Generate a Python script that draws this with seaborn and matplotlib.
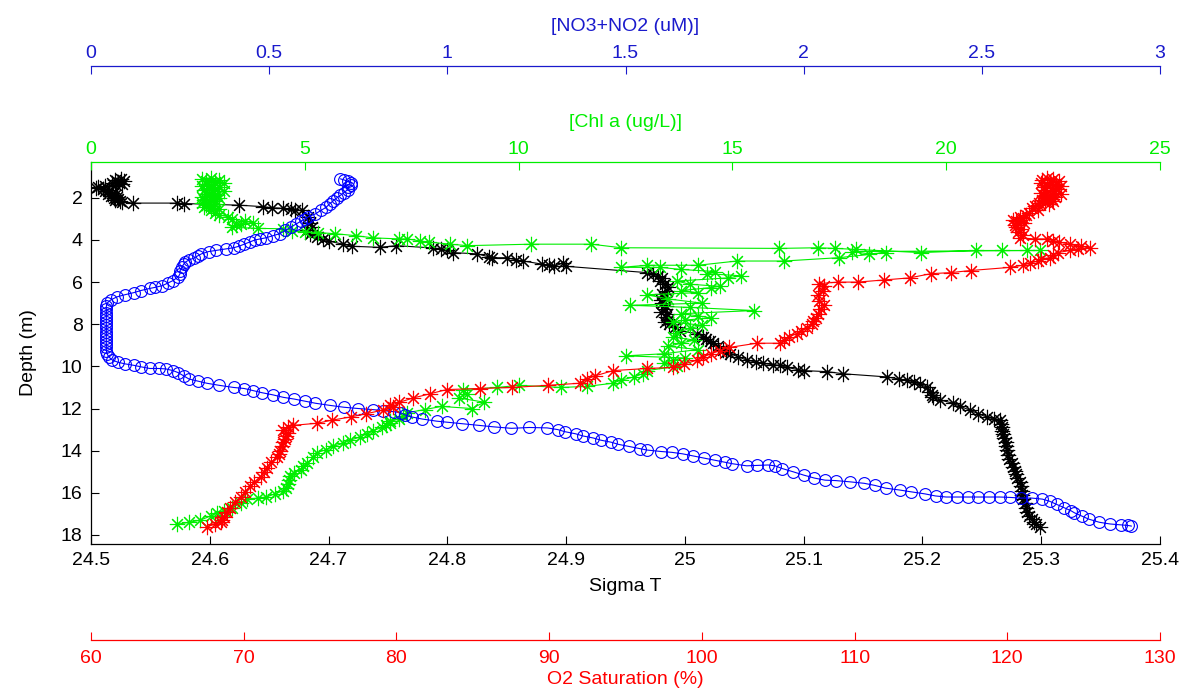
import matplotlib
matplotlib.use("Agg")
import matplotlib.pyplot as plt
import seaborn as sns
import pandas as pd

# ---------------- data ----------------
# Sigma T profile: (depth m, sigma T)
sigma_profile = [
    (1.10, 24.525), (1.15, 24.520), (1.20, 24.528), (1.25, 24.523), (1.30, 24.518), (1.35, 24.526),
    (1.40, 24.521), (1.45, 24.512), (1.50, 24.506), (1.55, 24.504), (1.60, 24.510), (1.65, 24.515),
    (1.70, 24.512), (1.75, 24.518), (1.80, 24.514), (1.85, 24.520), (1.90, 24.517), (1.95, 24.522),
    (2.00, 24.519), (2.05, 24.523), (2.10, 24.520), (2.15, 24.524), (2.20, 24.526), (2.25, 24.535),
    (2.25, 24.572), (2.27, 24.578), (2.35, 24.625), (2.42, 24.645), (2.47, 24.652), (2.50, 24.662),
    (2.55, 24.668), (2.58, 24.672), (2.60, 24.678), (2.90, 24.683), (3.20, 24.684), (3.40, 24.686),
    (3.55, 24.682), (3.70, 24.684), (3.85, 24.690), (3.95, 24.695), (4.05, 24.700), (4.20, 24.712),
    (4.30, 24.720), (4.35, 24.743), (4.27, 24.757), (4.38, 24.788), (4.42, 24.795), (4.50, 24.800),
    (4.60, 24.805), (4.66, 24.825), (4.80, 24.835), (4.85, 24.838), (4.84, 24.850), (4.95, 24.858),
    (5.00, 24.864), (5.15, 24.880), (5.20, 24.886), (5.25, 24.890), (5.10, 24.897), (5.25, 24.900),
    (5.55, 24.968), (5.60, 24.973), (5.70, 24.977), (5.80, 24.981), (5.95, 24.979), (6.10, 24.983),
    (6.25, 24.986), (6.40, 24.985), (6.55, 24.981), (6.70, 24.982), (6.85, 24.980), (7.00, 24.981),
    (7.15, 24.984), (7.30, 24.983), (7.40, 24.980), (7.50, 24.985), (7.65, 24.984), (7.80, 24.986),
    (7.90, 24.983), (8.00, 24.987), (8.15, 24.992), (8.30, 24.996), (8.45, 25.010), (8.60, 25.015),
    (8.70, 25.018), (8.80, 25.021), (8.90, 25.024), (9.05, 25.028), (9.20, 25.032), (9.30, 25.035),
    (9.40, 25.038), (9.55, 25.045), (9.70, 25.052), (9.80, 25.060), (9.86, 25.066), (9.92, 25.074),
    (9.95, 25.080), (10.05, 25.086), (10.15, 25.095), (10.20, 25.100), (10.25, 25.120), (10.35, 25.133),
    (10.50, 25.170), (10.60, 25.180), (10.66, 25.187), (10.75, 25.193), (10.85, 25.198), (11.00, 25.204),
    (11.20, 25.206), (11.35, 25.208), (11.47, 25.209), (11.60, 25.215), (11.75, 25.226), (11.90, 25.232),
    (12.08, 25.240), (12.25, 25.247), (12.40, 25.254), (12.50, 25.260), (12.56, 25.265), (12.75, 25.266),
    (12.90, 25.267), (13.05, 25.267), (13.20, 25.268), (13.40, 25.269), (13.60, 25.270), (13.80, 25.270),
    (13.97, 25.271), (14.20, 25.272), (14.40, 25.273), (14.60, 25.275), (14.78, 25.276), (14.95, 25.278),
    (15.10, 25.279), (15.30, 25.280), (15.50, 25.282), (15.70, 25.283), (15.90, 25.284), (16.10, 25.284),
    (16.30, 25.285), (16.50, 25.286), (16.70, 25.287), (16.90, 25.288), (17.10, 25.290), (17.25, 25.292),
    (17.40, 25.294), (17.50, 25.296), (17.60, 25.299),
]

# Chl a profile: (depth m, Chl a ug/L)
chl_profile = [
    (1.05, 2.8), (1.10, 2.6), (1.15, 3.0), (1.20, 2.7), (1.25, 2.9), (1.30, 3.1), (1.35, 2.7),
    (1.40, 2.85), (1.45, 2.6), (1.50, 3.0), (1.55, 2.75), (1.60, 2.9), (1.65, 2.65), (1.70, 3.1),
    (1.75, 2.8), (1.80, 2.7), (1.85, 2.95), (1.90, 2.75), (1.95, 2.6), (2.00, 3.0), (2.05, 2.8),
    (2.10, 2.65), (2.15, 2.9), (2.20, 2.75), (2.25, 2.6), (2.30, 2.9), (2.35, 2.7), (2.40, 2.8),
    (2.45, 2.65), (2.50, 2.85), (2.55, 3.0), (2.60, 2.8), (2.70, 2.9), (2.80, 3.0), (2.90, 3.2),
    (3.00, 3.3), (3.10, 3.6), (3.20, 3.8), (3.25, 3.5), (3.30, 3.4), (3.40, 3.3), (3.45, 3.9),
    (3.47, 4.5), (3.56, 4.7), (3.60, 5.0), (3.65, 5.3), (3.70, 5.7), (3.80, 6.2), (3.90, 6.6),
    (3.95, 7.2), (3.95, 7.4), (4.05, 7.7), (4.10, 7.9), (4.20, 8.4), (4.27, 8.8), (4.20, 10.3),
    (4.20, 11.7), (4.37, 12.4), (4.40, 16.1), (4.37, 17.0), (4.40, 17.4), (4.45, 17.9), (4.60, 19.4),
    (4.50, 20.7), (4.50, 21.3), (4.50, 21.9), (4.50, 22.2), (4.55, 17.8), (4.66, 18.2), (4.60, 18.6),
    (4.84, 17.5), (5.00, 16.2), (5.00, 15.1), (5.20, 14.2), (5.20, 13.0), (5.30, 12.4), (5.30, 13.3),
    (5.40, 13.8), (5.50, 14.6), (5.60, 14.4), (5.70, 15.2), (5.80, 14.9), (5.95, 13.7), (6.10, 14.0),
    (6.20, 14.7), (6.26, 14.5), (6.40, 13.8), (6.50, 14.2), (6.60, 13.0), (6.80, 13.5), (7.00, 14.3),
    (7.10, 12.6), (7.20, 14.0), (7.35, 15.5), (7.50, 13.8), (7.60, 14.2), (7.70, 14.5), (7.80, 13.9),
    (7.90, 13.6), (8.05, 14.3), (8.20, 14.0), (8.40, 13.7), (8.60, 13.6), (8.75, 14.1), (8.90, 13.8),
    (9.05, 13.5), (9.20, 14.2), (9.40, 13.4), (9.50, 12.5), (9.60, 13.9), (9.70, 13.6), (9.86, 13.4),
    (10.00, 13.7), (10.20, 13.0), (10.35, 12.9), (10.50, 12.7), (10.65, 12.4), (10.80, 12.2),
    (10.95, 11.6), (11.00, 11.0), (10.90, 10.0), (11.00, 9.5), (11.10, 8.7), (11.30, 8.8), (11.50, 8.6),
    (11.70, 9.2), (12.00, 8.9), (11.90, 8.2), (12.05, 7.8), (12.20, 7.4), (12.35, 7.3), (12.50, 7.2),
    (12.60, 7.0), (12.70, 7.0), (12.80, 6.9), (12.90, 6.8), (13.05, 6.6), (13.20, 6.45), (13.35, 6.3),
    (13.50, 6.06), (13.65, 5.9), (13.80, 5.66), (13.95, 5.5), (14.10, 5.28), (14.30, 5.2), (14.60, 5.05),
    (14.75, 4.95), (14.90, 4.9), (15.05, 4.75), (15.20, 4.65), (15.40, 4.62), (15.60, 4.6), (15.75, 4.55),
    (15.90, 4.5), (16.05, 4.3), (16.20, 4.1), (16.25, 3.9), (16.30, 3.65), (16.50, 3.5), (16.70, 3.3),
    (16.85, 3.1), (16.95, 2.95), (17.10, 2.8), (17.30, 2.55), (17.40, 2.3), (17.50, 2.0),
]

# NO3+NO2 profile: (depth m, uM)
no3_profile = [
    (1.10, 0.70), (1.15, 0.71), (1.22, 0.72), (1.30, 0.73), (1.40, 0.73), (1.50, 0.72), (1.62, 0.72),
    (1.75, 0.71), (1.88, 0.70), (2.00, 0.69), (2.14, 0.68), (2.28, 0.67), (2.45, 0.66), (2.60, 0.645),
    (2.76, 0.63), (2.90, 0.61), (3.00, 0.60), (3.10, 0.59), (3.25, 0.575), (3.40, 0.56), (3.55, 0.545),
    (3.70, 0.53), (3.80, 0.51), (3.90, 0.49), (3.95, 0.475), (4.00, 0.46), (4.10, 0.445), (4.20, 0.43),
    (4.30, 0.415), (4.37, 0.40), (4.42, 0.38), (4.50, 0.35), (4.55, 0.33), (4.66, 0.31), (4.75, 0.30),
    (4.85, 0.29), (4.95, 0.275), (5.05, 0.265), (5.15, 0.26), (5.30, 0.255), (5.45, 0.25), (5.60, 0.25),
    (5.75, 0.245), (5.93, 0.23), (6.05, 0.215), (6.17, 0.20), (6.25, 0.18), (6.30, 0.165), (6.40, 0.14),
    (6.50, 0.12), (6.60, 0.095), (6.70, 0.073), (6.85, 0.055), (7.00, 0.045), (7.15, 0.043),
    (7.30, 0.043), (7.45, 0.043), (7.60, 0.043), (7.75, 0.043), (7.90, 0.043), (8.05, 0.043),
    (8.20, 0.043), (8.35, 0.043), (8.50, 0.043), (8.65, 0.043), (8.80, 0.043), (8.95, 0.043),
    (9.10, 0.043), (9.25, 0.043), (9.40, 0.045), (9.55, 0.05), (9.70, 0.06), (9.80, 0.075),
    (9.88, 0.095), (9.95, 0.12), (10.02, 0.14), (10.10, 0.165), (10.10, 0.19), (10.12, 0.21),
    (10.20, 0.23), (10.30, 0.245), (10.45, 0.26), (10.60, 0.275), (10.70, 0.30), (10.80, 0.325),
    (10.90, 0.36), (11.00, 0.40), (11.05, 0.43), (11.15, 0.455), (11.25, 0.48), (11.35, 0.51),
    (11.47, 0.54), (11.55, 0.57), (11.65, 0.60), (11.75, 0.63), (11.85, 0.67), (11.94, 0.71),
    (12.00, 0.75), (12.05, 0.79), (12.10, 0.82), (12.15, 0.85), (12.20, 0.87), (12.30, 0.88),
    (12.40, 0.90), (12.50, 0.93), (12.60, 0.97), (12.65, 1.00), (12.72, 1.04), (12.80, 1.09),
    (12.87, 1.13), (12.94, 1.18), (12.90, 1.23), (12.92, 1.28), (13.00, 1.31), (13.10, 1.33),
    (13.20, 1.36), (13.30, 1.38), (13.40, 1.41), (13.50, 1.43), (13.60, 1.46), (13.70, 1.48),
    (13.80, 1.51), (13.90, 1.54), (13.97, 1.56), (14.04, 1.60), (14.08, 1.63), (14.15, 1.66),
    (14.25, 1.69), (14.35, 1.72), (14.45, 1.75), (14.55, 1.78), (14.62, 1.80), (14.72, 1.84),
    (14.70, 1.87), (14.68, 1.90), (14.72, 1.92), (14.85, 1.94), (15.00, 1.97), (15.16, 2.00),
    (15.30, 2.03), (15.40, 2.06), (15.42, 2.09), (15.48, 2.13), (15.55, 2.17), (15.65, 2.20),
    (15.78, 2.23), (15.87, 2.27), (15.95, 2.30), (16.05, 2.34), (16.15, 2.37), (16.20, 2.40),
    (16.20, 2.43), (16.20, 2.46), (16.20, 2.49), (16.20, 2.52), (16.20, 2.55), (16.22, 2.58),
    (16.25, 2.61), (16.25, 2.64), (16.30, 2.67), (16.40, 2.69), (16.55, 2.71), (16.70, 2.73),
    (16.85, 2.75), (16.95, 2.76), (17.10, 2.78), (17.25, 2.80), (17.40, 2.83), (17.48, 2.86),
    (17.52, 2.89), (17.55, 2.91), (17.58, 2.92),
]

# O2 saturation profile: (depth m, %)
o2_profile = [
    (1.05, 122.6), (1.10, 123.0), (1.15, 122.3), (1.20, 123.4), (1.25, 122.8), (1.30, 122.2),
    (1.35, 123.2), (1.40, 122.6), (1.45, 123.5), (1.50, 122.4), (1.55, 122.9), (1.60, 123.3),
    (1.65, 122.5), (1.70, 123.0), (1.75, 122.2), (1.80, 123.5), (1.85, 122.8), (1.90, 122.4),
    (1.95, 123.1), (2.00, 122.6), (2.05, 122.9), (2.10, 122.3), (2.15, 123.0), (2.20, 122.5),
    (2.25, 122.1), (2.30, 122.7), (2.35, 122.0), (2.40, 121.8), (2.50, 121.6), (2.60, 122.0),
    (2.70, 121.4), (2.80, 121.2), (2.90, 120.8), (2.95, 121.0), (3.05, 120.4), (3.10, 120.6),
    (3.20, 121.1), (3.30, 120.5), (3.40, 120.6), (3.50, 120.9), (3.60, 120.7), (3.75, 121.0),
    (3.90, 120.8), (3.95, 121.8), (3.95, 122.6), (4.05, 123.0), (4.10, 123.4), (4.20, 124.1),
    (4.30, 124.8), (4.37, 125.4), (4.45, 124.6), (4.50, 124.1), (4.60, 123.3), (4.70, 123.0),
    (4.84, 122.8), (4.90, 122.2), (5.00, 122.0), (5.10, 121.5), (5.20, 121.0), (5.30, 120.2),
    (5.45, 117.6), (5.55, 116.3), (5.60, 115.0), (5.80, 113.6), (5.90, 111.9), (6.00, 110.2),
    (6.00, 108.9), (6.07, 107.7), (6.20, 108.0), (6.40, 107.9), (6.60, 107.6), (6.90, 107.7),
    (7.10, 108.0), (7.30, 107.8), (7.50, 107.6), (7.70, 107.5), (7.85, 107.3), (8.00, 107.2),
    (8.20, 106.9), (8.30, 106.5), (8.45, 106.2), (8.60, 105.7), (8.75, 105.4), (8.90, 105.1),
    (8.90, 103.6), (9.10, 101.8), (9.25, 101.2), (9.40, 100.6), (9.55, 100.1), (9.70, 99.7),
    (9.90, 98.8), (10.05, 98.1), (10.10, 96.4), (10.20, 94.2), (10.45, 93.0), (10.60, 92.5),
    (10.80, 92.0), (10.90, 89.9), (11.00, 87.6), (11.05, 85.5), (11.10, 83.3), (11.30, 82.2),
    (11.50, 81.1), (11.70, 80.2), (11.85, 79.6), (11.95, 79.8), (12.08, 79.1), (12.25, 78.0),
    (12.40, 77.0), (12.55, 75.8), (12.70, 74.8), (12.80, 73.2), (12.90, 72.9), (13.00, 72.6),
    (13.15, 72.9), (13.30, 72.8), (13.45, 72.7), (13.60, 72.6), (13.80, 72.5), (14.00, 72.4),
    (14.15, 72.3), (14.30, 72.2), (14.55, 71.8), (14.80, 71.5), (15.00, 71.3), (15.25, 71.1),
    (15.50, 70.7), (15.70, 70.4), (15.95, 70.1), (16.20, 69.8), (16.45, 69.4), (16.70, 69.1),
    (16.90, 68.9), (17.15, 68.7), (17.30, 68.6), (17.40, 68.5), (17.50, 68.1), (17.60, 67.6),
]

sigma_ticks = [24.5, 24.6, 24.7, 24.8, 24.9, 25.0, 25.1, 25.2, 25.3, 25.4]
sigma_ticklabels = ["24.5", "24.6", "24.7", "24.8", "24.9", "25", "25.1", "25.2", "25.3", "25.4"]
chl_ticks = [0, 5, 10, 15, 20, 25]
no3_ticks = [0, 0.5, 1, 1.5, 2, 2.5, 3]
no3_ticklabels = ["0", "0.5", "1", "1.5", "2", "2.5", "3"]
o2_ticks = [60, 70, 80, 90, 100, 110, 120, 130]
depth_ticks = [2, 4, 6, 8, 10, 12, 14, 16, 18]

# ---------------- style ----------------
sns.set_theme(style="ticks")
plt.rcParams["font.family"] = ["Liberation Sans", "DejaVu Sans"]
FS = 14

BLACK = "black"
GREEN = "#00ee00"
BLUE = "#0000ff"
AXBLUE = "#1a1acc"
RED = "#ff0000"
AST = (8, 2, 0)

W, H = 1186, 689
fig = plt.figure(figsize=(W / 100, H / 100), dpi=100)
left, right, top, bottom = 91, 1160, 162, 544
ax = fig.add_axes([left / W, 1 - bottom / H, (right - left) / W, (bottom - top) / H])
ax.set_facecolor("white")

ax_chl = ax.twiny()
ax_no3 = ax.twiny()
ax_o2 = ax.twiny()


def to_df(profile):
    return pd.DataFrame(profile, columns=["depth", "val"])


common = dict(sort=False, estimator=None, linewidth=0.8)
sns.lineplot(data=to_df(no3_profile), x="val", y="depth", ax=ax_no3, color=BLUE, marker="o",
             markersize=8.5, markerfacecolor="none", markeredgecolor=BLUE,
             markeredgewidth=0.8, **common)
sns.lineplot(data=to_df(o2_profile), x="val", y="depth", ax=ax_o2, color=RED, marker=AST,
             markersize=11, markeredgecolor=RED, markeredgewidth=0.8, **common)
sns.lineplot(data=to_df(chl_profile), x="val", y="depth", ax=ax_chl, color=GREEN, marker=AST,
             markersize=11, markeredgecolor=GREEN, markeredgewidth=0.8, **common)
sns.lineplot(data=to_df(sigma_profile), x="val", y="depth", ax=ax, color=BLACK, marker=AST,
             markersize=11, markeredgecolor=BLACK, markeredgewidth=0.8, **common)

# main axes
ax.set_xlim(24.5, 25.4)
ax.set_ylim(18.43, 0.3)
ax.set_xticks(sigma_ticks)
ax.set_xticklabels(sigma_ticklabels)
ax.set_yticks(depth_ticks)
ax.tick_params(axis="both", direction="in", labelsize=FS, colors=BLACK, length=6, width=0.8, pad=6)
ax.set_xlabel("Sigma T", fontsize=FS, color=BLACK, labelpad=6)
ax.set_ylabel("Depth (m)", fontsize=FS, color=BLACK, labelpad=17)
ax.spines["top"].set_visible(False)
ax.spines["right"].set_visible(False)
for s in ("left", "bottom"):
    ax.spines[s].set_color(BLACK)
    ax.spines[s].set_linewidth(0.9)

OUT = 96 * 72 / 100  # 96 px in points

# Chl axis (top, on the box)
ax_chl.set_xlim(0, 25)
ax_chl.set_xticks(chl_ticks)
ax_chl.tick_params(axis="x", direction="in", labelsize=FS, colors=GREEN, length=6, width=0.8, pad=3)
ax_chl.set_xlabel("[Chl a (ug/L)]", fontsize=FS, color=GREEN, labelpad=10)
for s in ("left", "right", "bottom"):
    ax_chl.spines[s].set_visible(False)
ax_chl.spines["top"].set_color(GREEN)
ax_chl.spines["top"].set_linewidth(0.9)

# NO3 axis (top, offset outward)
ax_no3.set_xlim(0, 3)
ax_no3.set_xticks(no3_ticks)
ax_no3.set_xticklabels(no3_ticklabels)
ax_no3.spines["top"].set_position(("outward", OUT))
ax_no3.tick_params(axis="x", direction="in", labelsize=FS, colors=AXBLUE, length=6, width=0.8, pad=3)
ax_no3.set_xlabel("[NO3+NO2 (uM)]", fontsize=FS, color=AXBLUE, labelpad=10)
for s in ("left", "right", "bottom"):
    ax_no3.spines[s].set_visible(False)
ax_no3.spines["top"].set_color(AXBLUE)
ax_no3.spines["top"].set_linewidth(0.9)

# O2 axis (bottom, offset outward)
ax_o2.set_xlim(60, 130)
ax_o2.set_xticks(o2_ticks)
ax_o2.xaxis.set_ticks_position("bottom")
ax_o2.xaxis.set_label_position("bottom")
ax_o2.spines["bottom"].set_position(("outward", OUT))
ax_o2.tick_params(axis="x", direction="in", labelsize=FS, colors=RED, length=6, width=0.8, pad=7)
ax_o2.set_xlabel("O2 Saturation (%)", fontsize=FS, color=RED, labelpad=3)
for s in ("left", "right", "top"):
    ax_o2.spines[s].set_visible(False)
ax_o2.spines["bottom"].set_color(RED)
ax_o2.spines["bottom"].set_linewidth(0.9)

for a in (ax_chl, ax_no3, ax_o2):
    a.set_ylabel("")
    a.tick_params(axis="y", left=False, right=False, labelleft=False, labelright=False)

fig.savefig("out.png", dpi=100, facecolor="white")
